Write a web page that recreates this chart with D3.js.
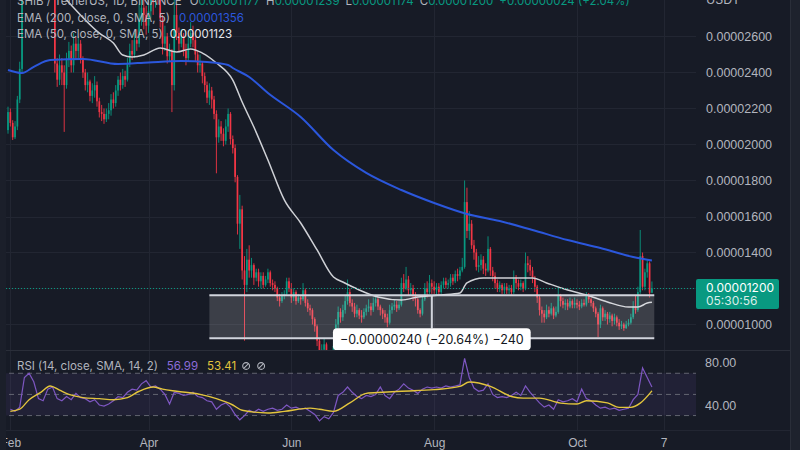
<!DOCTYPE html>
<html>
<head>
<meta charset="utf-8">
<title>SHIB / TetherUS · 1D · BINANCE</title>
<script src="https://cdn.jsdelivr.net/npm/d3@7/dist/d3.min.js"></script>
<style>
  html, body { margin: 0; padding: 0; background: #171b26; }
  svg { display: block; font-family: Inter, Roboto, "Noto Sans", sans-serif; }
</style>
</head>
<body>
<svg id="chart" width="800" height="450"></svg>
<script>
// ---------------------------------------------------------------------------
// Daily SHIB/USDT bars. Prices are in units of 1e-8 USDT (2600 = 0.00002600).
// Bar i is dated firstDay + i days.
// ---------------------------------------------------------------------------
const firstDay = "2022-01-31";

const opens = [
  2080,2180,2120,2040,2100,2250,2420,2900,3180,3020,
  3080,2960,2900,2950,2920,3000,3100,3000,2880,2860,
  2850,2450,2360,2440,2400,2330,2470,2520,2440,2560,
  2520,2560,2470,2400,2330,2350,2270,2300,2330,2240,
  2180,2170,2140,2170,2190,2250,2230,2300,2360,2330,
  2380,2360,2450,2520,2500,2580,2560,2700,2760,2720,
  2660,2740,2820,2790,2880,2850,2700,2560,2600,2490,
  2520,2330,2720,2620,2560,2600,2520,2480,2560,2620,
  2580,2500,2440,2450,2380,2330,2260,2300,2250,2170,
  2040,2100,2060,2020,2100,2170,2030,1980,1820,1560,
  1640,1300,1220,1360,1300,1330,1260,1290,1240,1270,
  1220,1250,1290,1230,1220,1200,1150,1130,1160,1170,
  1240,1200,1150,1180,1130,1150,1140,1190,1120,1090,
  1080,1030,990,910,820,860,890,810,830,770,
  880,1000,1070,1040,1080,1130,1180,1120,1100,1060,
  1080,1050,1040,1070,1090,1100,1080,1120,1140,1100,
  1080,1060,1040,1010,1080,1100,1110,1090,1110,1230,
  1200,1250,1190,1200,1160,1140,1080,1060,1140,1200,
  1180,1230,1210,1190,1210,1180,1220,1240,1220,1230,
  1260,1240,1280,1270,1300,1320,1680,1520,1560,1440,
  1400,1320,1330,1360,1310,1300,1420,1300,1270,1230,
  1200,1220,1190,1210,1190,1200,1180,1260,1230,1210,
  1230,1200,1340,1330,1300,1260,1210,1150,1080,1060,
  1040,1080,1060,1090,1050,1070,1160,1130,1110,1120,
  1100,1130,1110,1120,1110,1100,1120,1110,1160,1140,
  1120,1090,1060,1000,1090,1040,1060,1030,1050,1020,
  1040,1010,990,1000,980,1000,1010,1040,1100,1080,
  1180,1380,1210,1290,1340,1177
];

const highs = [
  2210,2200,2135,2130,2270,2460,3000,3450,3250,3180,
  3120,3000,3010,2990,3050,3160,3120,3020,2920,2900,
  2870,2480,2500,2480,2440,2510,2570,2550,2620,2600,
  2600,2580,2490,2420,2400,2360,2340,2380,2350,2260,
  2220,2200,2200,2230,2280,2290,2330,2380,2400,2420,
  2410,2480,2560,2580,2620,2640,2780,2860,2830,2770,
  2820,2900,2880,2960,2980,2880,2720,2660,2620,2560,
  2530,2900,2780,2650,2640,2620,2560,2600,2680,2660,
  2600,2520,2500,2460,2400,2350,2340,2320,2270,2190,
  2140,2130,2090,2140,2200,2180,2050,2000,1830,1720,
  1660,1380,1420,1440,1370,1340,1310,1310,1290,1290,
  1270,1310,1300,1250,1240,1210,1170,1180,1190,1260,
  1260,1230,1200,1190,1170,1160,1230,1200,1140,1110,
  1090,1040,1000,920,890,920,900,850,840,900,
  1030,1100,1090,1110,1160,1250,1200,1140,1120,1110,
  1090,1080,1090,1110,1140,1120,1150,1165,1150,1110,
  1090,1080,1060,1110,1120,1140,1130,1130,1260,1280,
  1320,1270,1230,1220,1180,1150,1090,1160,1230,1240,
  1275,1250,1240,1230,1230,1240,1260,1260,1250,1280,
  1280,1300,1310,1320,1370,1800,1760,1630,1580,1470,
  1420,1380,1390,1380,1340,1490,1430,1320,1290,1250,
  1240,1230,1230,1230,1220,1220,1300,1275,1250,1250,
  1240,1400,1380,1360,1320,1270,1220,1160,1100,1080,
  1110,1100,1120,1100,1100,1210,1170,1150,1140,1140,
  1150,1140,1150,1140,1130,1140,1140,1180,1175,1150,
  1130,1100,1070,1110,1100,1080,1070,1070,1060,1060,
  1050,1030,1020,1010,1020,1030,1060,1130,1160,1210,
  1525,1400,1310,1360,1350,1239
];

const lows = [
  2060,2100,2025,2030,2080,2230,2400,2880,2900,2950,
  2900,2840,2850,2860,2870,2960,2920,2850,2830,2820,
  2400,2320,2330,2330,2070,2310,2430,2400,2400,2470,
  2480,2450,2370,2300,2290,2240,2230,2260,2210,2150,
  2130,2115,2125,2140,2160,2200,2210,2270,2300,2310,
  2320,2350,2430,2470,2480,2520,2540,2660,2640,2610,
  2620,2700,2720,2760,2780,2650,2500,2520,2450,2460,
  2180,2300,2580,2520,2540,2490,2440,2460,2540,2540,
  2460,2400,2400,2340,2290,2230,2220,2200,2140,1840,
  2010,2020,1990,2000,2070,2000,1950,1790,1500,1420,
  1250,910,1180,1260,1260,1220,1240,1210,1200,1200,
  1210,1230,1210,1190,1180,1130,1100,1120,1140,1160,
  1180,1120,1130,1110,1120,1110,1130,1100,1070,1050,
  1000,960,880,780,800,820,790,790,690,760,
  870,980,1010,1020,1060,1110,1100,1070,1040,1040,
  1030,1010,1030,1050,1070,1050,1070,1100,1080,1050,
  1030,1010,985,1000,1060,1080,1070,1080,1100,1180,
  1190,1160,1160,1130,1100,1060,1040,1050,1130,1150,
  1170,1170,1170,1160,1160,1170,1200,1200,1200,1210,
  1220,1230,1240,1250,1290,1310,1480,1470,1420,1360,
  1300,1290,1300,1280,1270,1290,1270,1240,1200,1180,
  1180,1170,1170,1170,1170,1165,1170,1200,1190,1190,
  1180,1190,1290,1270,1230,1180,1120,1050,1010,1010,
  1030,1040,1050,1030,1040,1060,1100,1090,1080,1080,
  1090,1090,1090,1090,1080,1090,1100,1100,1120,1100,
  1070,1040,930,980,1020,1020,1000,1010,990,1000,
  990,970,975,965,975,990,1000,1030,1060,1070,
  1170,1190,1190,1260,1150,1174
];

const closes = [
  2180,2120,2040,2100,2250,2420,2900,3180,3020,3080,
  2960,2900,2950,2920,3000,3100,3000,2880,2860,2850,
  2450,2360,2440,2400,2330,2470,2520,2440,2560,2520,
  2560,2470,2400,2330,2350,2270,2300,2330,2240,2180,
  2170,2140,2170,2190,2250,2230,2300,2360,2330,2380,
  2360,2450,2520,2500,2580,2560,2700,2760,2720,2660,
  2740,2820,2790,2880,2850,2700,2560,2600,2490,2520,
  2330,2720,2620,2560,2600,2520,2480,2560,2620,2580,
  2500,2440,2450,2380,2330,2260,2300,2250,2170,2040,
  2100,2060,2020,2100,2170,2030,1980,1820,1560,1640,
  1300,1220,1360,1300,1330,1260,1290,1240,1270,1220,
  1250,1290,1230,1220,1200,1150,1130,1160,1170,1240,
  1200,1150,1180,1130,1150,1140,1190,1120,1090,1080,
  1030,990,910,820,860,890,810,830,770,880,
  1000,1070,1040,1080,1130,1180,1120,1100,1060,1080,
  1050,1040,1070,1090,1100,1080,1120,1140,1100,1080,
  1060,1040,1010,1080,1100,1110,1090,1110,1230,1200,
  1250,1190,1200,1160,1140,1080,1060,1140,1200,1180,
  1230,1210,1190,1210,1180,1220,1240,1220,1230,1260,
  1240,1280,1270,1300,1320,1680,1520,1560,1440,1400,
  1320,1330,1360,1310,1300,1420,1300,1270,1230,1200,
  1220,1190,1210,1190,1200,1180,1260,1230,1210,1230,
  1200,1340,1330,1300,1260,1210,1150,1080,1060,1040,
  1080,1060,1090,1050,1070,1160,1130,1110,1120,1100,
  1130,1110,1120,1110,1100,1120,1110,1160,1140,1120,
  1090,1060,1000,1090,1040,1060,1030,1050,1020,1040,
  1010,990,1000,980,1000,1010,1040,1100,1080,1180,
  1380,1210,1290,1340,1176,1200
];

// Moving-average overlays: day index (from firstDay) and value
const ema200Days = [0, 6, 11, 18, 32, 47, 60, 74, 85, 94, 96, 103, 111, 125, 139, 153, 168, 182, 196, 210, 224, 239, 253, 267, 275];
const ema200     = [2414, 2397, 2431, 2469, 2475, 2447, 2456, 2464, 2458, 2442, 2425, 2375, 2286, 2153, 1969, 1842, 1747, 1675, 1614, 1575, 1525, 1469, 1425, 1375, 1356];

const ema50Days = [0, 12, 25, 39, 45, 49, 53, 58, 65, 72, 78, 83, 89, 96, 100, 105, 111, 118, 125, 132, 139, 143, 150, 158, 168, 175, 185, 193, 196, 203, 214, 224, 230, 239, 247, 256, 265, 269, 273, 275];
const ema50     = [3150, 3000, 2803, 2619, 2564, 2497, 2486, 2497, 2536, 2514, 2531, 2508, 2453, 2358, 2236, 2097, 1914, 1692, 1564, 1414, 1264, 1236, 1192, 1153, 1136, 1153, 1164, 1175, 1231, 1258, 1258, 1258, 1231, 1192, 1164, 1125, 1097, 1097, 1119, 1123];

// RSI(14): one reading every second day, starting at day 1
const rsiFirstDay = 1;
const rsiStep = 2;
const rsi = [
  36, 34, 38, 66, 70, 62, 46, 44, 55, 57,
  46, 44, 48, 45, 51, 47, 46, 43, 45, 40,
  39, 41, 44, 48, 47, 52, 55, 54, 60, 63,
  57, 58, 55, 50, 41, 52, 51, 49, 50, 52,
  48, 47, 44, 43, 36, 40, 42, 38, 31, 26,
  30, 35, 33, 36, 34, 36, 37, 35, 36, 40,
  37, 38, 36, 37, 34, 31, 25, 29, 27, 33,
  49, 52, 57, 52, 48, 46, 49, 48, 50, 57,
  49, 46, 52, 55, 60, 56, 54, 51, 55, 57,
  56, 57, 56, 58, 57, 58, 59, 84, 66, 56,
  53, 54, 60, 50, 47, 48, 47, 49, 52, 49,
  58, 52, 47, 42, 38, 40, 36, 45, 43, 44,
  46, 43, 55, 46, 44, 40, 37, 38, 36, 37,
  35, 36, 37, 45, 50, 75, 66, 56.99
];

// SMA(14) of the RSI
const rsiMaDays = [1, 5, 9, 14, 18, 22, 26, 32, 39, 45, 51, 56, 62, 66, 72, 82, 89, 96, 100, 111, 118, 129, 133, 139, 146, 153, 160, 168, 182, 193, 197, 206, 215, 220, 227, 236, 243, 247, 256, 261, 266, 270, 275];
const rsiMa     = [34, 36, 45, 52, 58, 54, 50, 47, 46, 45, 47, 53, 57, 55, 53, 50, 46, 40, 35, 32.5, 34, 37, 36, 34, 42, 51, 52, 53, 54.5, 57.6, 61.7, 57.6, 48, 46.5, 46.5, 41.8, 40.9, 44, 42, 37.8, 37.8, 41.8, 53.41];

// Axis ticks
const priceTicks = [1000, 1200, 1400, 1600, 1800, 2000, 2200, 2400, 2600];
const rsiTicks = [40, 80];
const rsiLevels = [70, 50, 30];
const timeTicks = ["2022-02-01", "2022-04-01", "2022-06-01", "2022-08-01", "2022-10-01", "2022-11-07"];
const timeTickLabels = ["Feb", "Apr", "Jun", "Aug", "Oct", "7"];

// Price-range measurement drawn over the chart
const rangeStart = "2022-04-27";
const rangeEnd = "2022-11-03";
const rangeHigh = 1163;
const rangeLow = 923;

// Countdown shown under the last price
const barCountdown = "05:30:56";

// ---------------------------------------------------------------------------
if (![opens, highs, lows].every(a => a.length === closes.length)) {
  throw new Error("bar arrays differ in length");
}

const W = 800, H = 450;
const plotW = 696;           // width of the plotting area (price axis to the right)
const priceBottom = 350;     // price pane spans y 0..350
const rsiTop = 350, rsiBottom = 430;

const C = {
  bg: "#171b26",
  grid: "#222632",
  sep: "#2a2e39",
  text: "#b2b5be",
  up: "#089981",
  down: "#f23645",
  ema200: "#2b57dc",
  ema50: "#cfd1d6",
  rsi: "#7e57c2",
  rsiMa: "#e3c53d"
};

const parse = d3.utcParse("%Y-%m-%d");
const day0 = parse(firstDay);
const dayDate = i => d3.utcDay.offset(day0, i);
const fmtPrice = v => (v * 1e-8).toFixed(8);
const MINUS = "\u2212";

// Time scale: two month anchors, stretched over the plot width
const x = d3.scaleUtc()
  .domain([parse("2022-04-01"), parse("2022-10-01")])
  .range([148.5, 577]);
x.domain([x.invert(0), x.invert(plotW)]).range([0, plotW]);

// Price scale
const y = d3.scaleLinear().domain([1200, 2600]).range([288.5, 36.5]);
y.domain([y.invert(priceBottom), y.invert(0)]).range([priceBottom, 0]);

// RSI scale
const yr = d3.scaleLinear().domain([40, 80]).range([405, 362.7]);

const svg = d3.select("#chart");
svg.append("rect").attr("width", W).attr("height", H).attr("fill", C.bg);

const defs = svg.append("defs");
defs.append("clipPath").attr("id", "clip-price")
  .append("rect").attr("x", 0).attr("y", 0).attr("width", plotW).attr("height", priceBottom);
defs.append("clipPath").attr("id", "clip-rsi")
  .append("rect").attr("x", 0).attr("y", rsiTop).attr("width", plotW).attr("height", rsiBottom - rsiTop);

// ---- grid -----------------------------------------------------------------
const grid = svg.append("g").attr("shape-rendering", "crispEdges");
grid.selectAll("line.h").data(priceTicks).join("line")
  .attr("x1", 0).attr("x2", plotW)
  .attr("y1", d => Math.round(y(d)) + 0.5).attr("y2", d => Math.round(y(d)) + 0.5)
  .attr("stroke", C.grid);
grid.selectAll("line.v").data(timeTicks).join("line")
  .attr("x1", d => Math.round(x(parse(d))) + 0.5).attr("x2", d => Math.round(x(parse(d))) + 0.5)
  .attr("y1", 0).attr("y2", rsiBottom)
  .attr("stroke", C.grid);

// ---- price pane ---------------------------------------------------------------
const pricePane = svg.append("g").attr("clip-path", "url(#clip-price)");

const bars = closes.map((c, i) => ({
  date: dayDate(i), o: opens[i], h: highs[i], l: lows[i], c
}));

const candles = pricePane.append("g");
candles.selectAll("line").data(bars).join("line")
  .attr("x1", d => x(d.date)).attr("x2", d => x(d.date))
  .attr("y1", d => y(d.h)).attr("y2", d => y(d.l))
  .attr("stroke", d => d.c >= d.o ? C.up : C.down)
  .attr("stroke-width", 0.9);
const bodyW = 1.7;
candles.selectAll("rect").data(bars).join("rect")
  .attr("x", d => x(d.date) - bodyW / 2)
  .attr("width", bodyW)
  .attr("y", d => y(Math.max(d.o, d.c)))
  .attr("height", d => Math.max(0.8, Math.abs(y(d.o) - y(d.c))))
  .attr("fill", d => d.c >= d.o ? C.up : C.down);

const maLine = d3.line()
  .x(d => x(dayDate(d[0])))
  .y(d => y(d[1]))
  .curve(d3.curveMonotoneX);

pricePane.append("path")
  .attr("d", maLine(d3.zip(ema50Days, ema50)))
  .attr("fill", "none").attr("stroke", C.ema50).attr("stroke-width", 1.5);
pricePane.append("path")
  .attr("d", maLine(d3.zip(ema200Days, ema200)))
  .attr("fill", "none").attr("stroke", C.ema200).attr("stroke-width", 2);

// Last price line
const lastBar = bars[bars.length - 1];
const prevClose = closes[closes.length - 2];
pricePane.append("line")
  .attr("x1", 0).attr("x2", plotW)
  .attr("y1", y(lastBar.c)).attr("y2", y(lastBar.c))
  .attr("stroke", C.up).attr("stroke-width", 1)
  .attr("stroke-dasharray", "1,2");

// ---- price range measurement ----------------------------------------------
const meas = svg.append("g");
const mx0 = x(parse(rangeStart)), mx1 = x(parse(rangeEnd));
const my0 = y(rangeHigh), my1 = y(rangeLow);
const mMid = (mx0 + mx1) / 2;
meas.append("rect")
  .attr("x", mx0).attr("y", my0).attr("width", mx1 - mx0).attr("height", my1 - my0)
  .attr("fill", "rgba(255,255,255,0.16)");
meas.selectAll("line.edge").data([my0, my1]).join("line")
  .attr("x1", mx0).attr("x2", mx1).attr("y1", d => d).attr("y2", d => d)
  .attr("stroke", "#d1d4dc").attr("stroke-width", 2);

const diff = rangeLow - rangeHigh;
const pct = diff / rangeHigh * 100;
const sgn = v => (v < 0 ? MINUS : "+");
const measText = `${sgn(diff)}${fmtPrice(Math.abs(diff))} (${sgn(pct)}${Math.abs(pct).toFixed(2)}%) ${sgn(diff)}${Math.abs(diff)}`;
const labelTop = my1 - 10, labelH = 22;
meas.append("line")
  .attr("x1", mMid).attr("x2", mMid).attr("y1", my0).attr("y2", labelTop)
  .attr("stroke", "#d1d4dc").attr("stroke-width", 2);
const labelBox = meas.append("rect")
  .attr("y", labelTop).attr("height", labelH).attr("rx", 4)
  .attr("fill", "#ffffff");
const labelText = meas.append("text")
  .attr("x", mMid).attr("y", labelTop + 16)
  .attr("text-anchor", "middle")
  .attr("font-size", 12.5)
  .attr("fill", "#131722")
  .text(measText);
const lw = labelText.node().getComputedTextLength() + 14;
labelBox.attr("x", mMid - lw / 2).attr("width", lw);

// ---- RSI pane -----------------------------------------------------------------
const rsiPane = svg.append("g").attr("clip-path", "url(#clip-rsi)");
rsiPane.append("rect")
  .attr("x", 0).attr("width", plotW)
  .attr("y", yr(70)).attr("height", yr(30) - yr(70))
  .attr("fill", "rgba(126,87,194,0.1)");
rsiPane.selectAll("line.lvl").data(rsiLevels).join("line")
  .attr("x1", 0).attr("x2", plotW)
  .attr("y1", d => yr(d)).attr("y2", d => yr(d))
  .attr("stroke", "#787b86").attr("stroke-opacity", 0.75)
  .attr("stroke-dasharray", "5,4");

const rsiLine = d3.line()
  .x((d, i) => x(dayDate(rsiFirstDay + i * rsiStep)))
  .y(d => yr(d));
rsiPane.append("path")
  .attr("d", rsiLine(rsi))
  .attr("fill", "none").attr("stroke", C.rsi).attr("stroke-width", 1.2);

const rsiMaLine = d3.line()
  .x(d => x(dayDate(d[0])))
  .y(d => yr(d[1]))
  .curve(d3.curveMonotoneX);
rsiPane.append("path")
  .attr("d", rsiMaLine(d3.zip(rsiMaDays, rsiMa)))
  .attr("fill", "none").attr("stroke", C.rsiMa).attr("stroke-width", 1.4);

// ---- frame --------------------------------------------------------------------
svg.append("line").attr("x1", 0).attr("x2", 790).attr("y1", rsiTop + 0.5).attr("y2", rsiTop + 0.5)
  .attr("stroke", C.sep);
svg.append("line").attr("x1", 0).attr("x2", 790).attr("y1", rsiBottom + 0.5).attr("y2", rsiBottom + 0.5)
  .attr("stroke", C.grid);

// ---- axes ---------------------------------------------------------------------
function styleAxis(g) {
  g.select(".domain").remove();
  g.selectAll("text").attr("fill", C.text).attr("font-size", 12.5).attr("font-family", null);
}

// The label at the last price sits under the price tag, so it is left out
const tagY = y(lastBar.c);
const priceLabelTicks = priceTicks.filter(v => Math.abs(y(v) - tagY) > 12);

svg.append("g")
  .attr("transform", `translate(${plotW},0)`)
  .call(d3.axisRight(y).tickValues(priceLabelTicks).tickFormat(fmtPrice).tickSize(0).tickPadding(10))
  .call(styleAxis);

svg.append("g")
  .attr("transform", `translate(${plotW},0)`)
  .call(d3.axisRight(yr).tickValues(rsiTicks).tickFormat(d => d.toFixed(2)).tickSize(0).tickPadding(9))
  .call(styleAxis);

svg.append("g")
  .attr("transform", `translate(0,${rsiBottom})`)
  .call(d3.axisBottom(x)
    .tickValues(timeTicks.map(parse))
    .tickFormat((d, i) => timeTickLabels[i])
    .tickSize(0).tickPadding(8.5))
  .call(styleAxis)
  .call(g => g.selectAll("text").attr("font-size", 12));

svg.append("text")
  .attr("x", 706).attr("y", 4)
  .attr("fill", C.text).attr("font-size", 12.5)
  .text("USDT");

// Last price tag
svg.append("rect")
  .attr("x", plotW).attr("y", tagY - 9.5).attr("width", 83).attr("height", 30).attr("rx", 2)
  .attr("fill", C.up);
svg.append("text")
  .attr("x", 706).attr("y", tagY + 3)
  .attr("fill", "#ffffff").attr("font-size", 12)
  .text(fmtPrice(lastBar.c));
svg.append("text")
  .attr("x", 706).attr("y", tagY + 16.5)
  .attr("fill", "#ffffff").attr("fill-opacity", 0.85).attr("font-size", 12)
  .text(barCountdown);

// Edge strips
svg.append("rect").attr("x", 0).attr("y", 0).attr("width", 6).attr("height", H).attr("fill", "#1b1f2a");
svg.append("rect").attr("x", 790).attr("y", 0).attr("width", 10).attr("height", H).attr("fill", "#1e222d");
svg.append("line").attr("x1", 790.5).attr("x2", 790.5).attr("y1", 0).attr("y2", H).attr("stroke", C.sep);

// ---- legends ------------------------------------------------------------------
const legend = svg.append("g").attr("font-size", 11.5);

const chg = lastBar.c - prevClose;
const chgPct = chg / prevClose * 100;
const l1 = legend.append("text").attr("x", 17).attr("y", 5).attr("fill", C.text);
l1.append("tspan").text("SHIB / TetherUS, 1D, BINANCE");
[["O", lastBar.o], ["H", lastBar.h], ["L", lastBar.l], ["C", lastBar.c]].forEach(([k, v], i) => {
  l1.append("tspan").attr("dx", i === 0 ? 8 : 6).text(k);
  l1.append("tspan").attr("fill", C.up).text(fmtPrice(v));
});
l1.append("tspan").attr("dx", 6).attr("fill", C.up)
  .text(`${chg >= 0 ? "+" : MINUS}${fmtPrice(Math.abs(chg))} (${chg >= 0 ? "+" : MINUS}${Math.abs(chgPct).toFixed(2)}%)`);

const l2 = legend.append("text").attr("x", 17).attr("y", 21.5).attr("fill", C.text);
l2.append("tspan").text("EMA (200, close, 0, SMA, 5)");
l2.append("tspan").attr("dx", 9).attr("fill", C.ema200).text(fmtPrice(ema200[ema200.length - 1]));

const l3 = legend.append("text").attr("x", 17).attr("y", 37.5).attr("fill", C.text);
l3.append("tspan").text("EMA (50, close, 0, SMA, 5)");
l3.append("tspan").attr("dx", 7).attr("fill", "#e6e7ea").text(fmtPrice(ema50[ema50.length - 1]));

const l4 = legend.append("text").attr("x", 17).attr("y", 370).attr("fill", C.text);
l4.append("tspan").text("RSI (14, close, SMA, 14, 2)");
l4.append("tspan").attr("dx", 9).attr("fill", "#8c6cd8").text(rsi[rsi.length - 1].toFixed(2));
l4.append("tspan").attr("dx", 9).attr("fill", C.rsiMa).text(rsiMa[rsiMa.length - 1].toFixed(2));

// Hidden-value icons after the RSI legend
const b4 = l4.node().getBBox();
const l4end = b4.x + b4.width;
[l4end + 10, l4end + 25].forEach(cx => {
  const ic = legend.append("g").attr("transform", `translate(${cx},366)`)
    .attr("stroke", C.text).attr("stroke-width", 1.1).attr("fill", "none");
  ic.append("circle").attr("r", 3.4);
  ic.append("line").attr("x1", -2.4).attr("y1", 2.4).attr("x2", 2.4).attr("y2", -2.4);
});
</script>
</body>
</html>
